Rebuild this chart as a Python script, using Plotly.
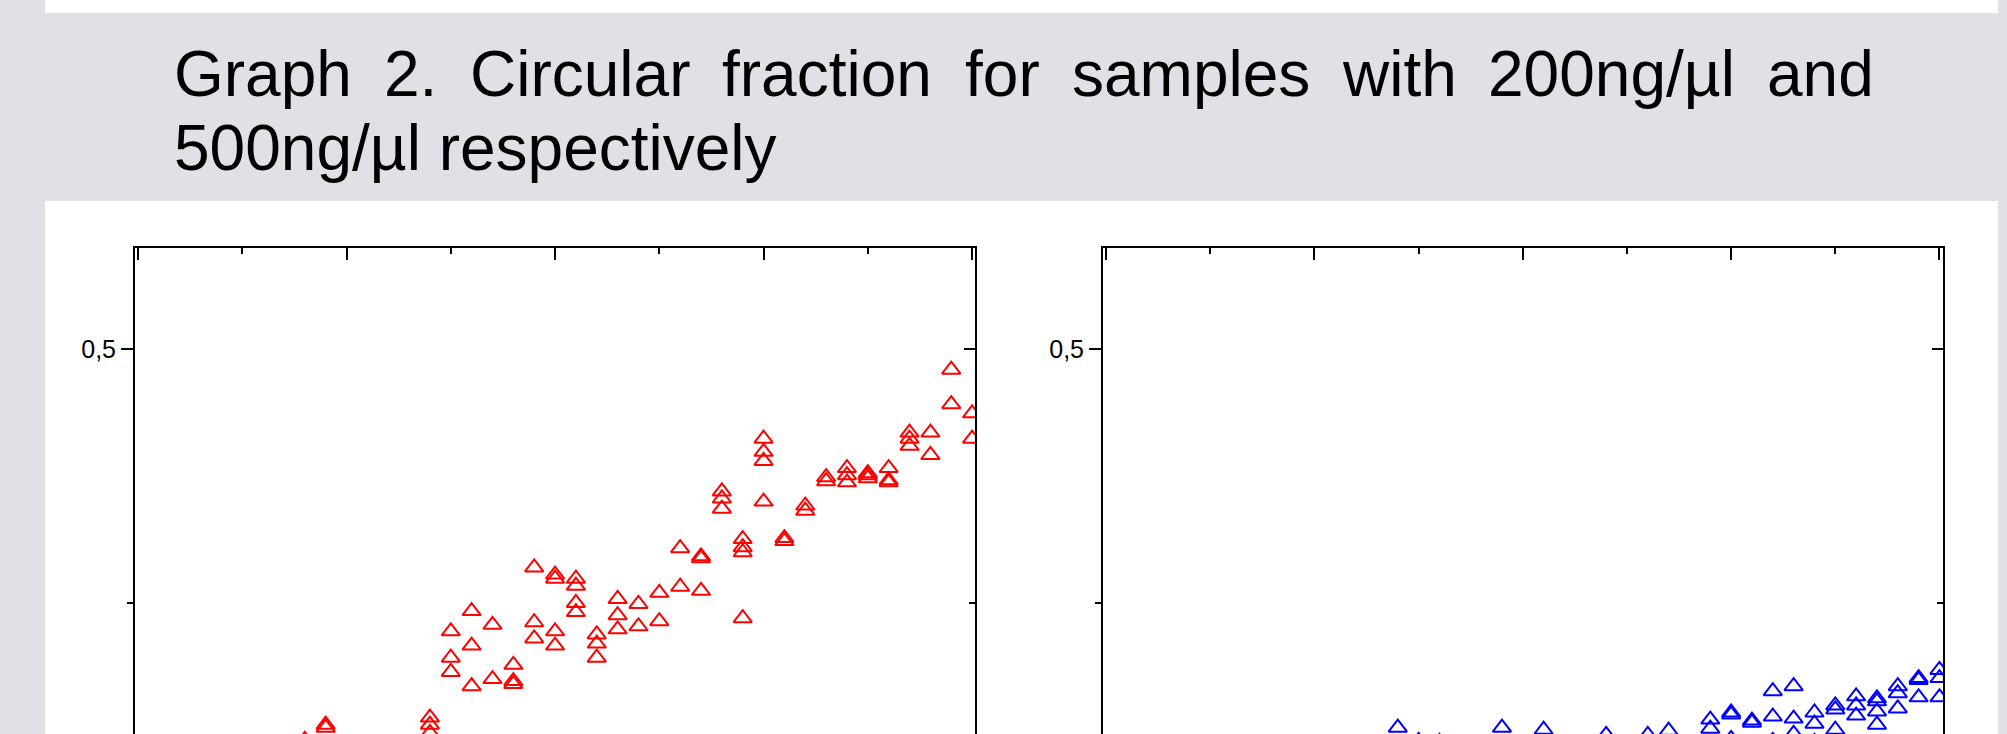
import plotly.graph_objects as go

# ---------------- data ----------------
title_line1_words = ["Graph", "2.", "Circular", "fraction", "for", "samples", "with", "200ng/µl", "and"]
title_line2 = "500ng/µl respectively"

# samples with 200 ng/µl (red)
x_200 = [8, 9, 9, 14, 14, 14, 15, 15, 15, 16, 16, 16, 17, 17, 18, 18, 18,
         19, 19, 19, 20, 20, 20, 20, 21, 21, 21, 21, 22, 22, 22, 23, 23, 23,
         24, 24, 25, 25, 26, 26, 27, 27, 27, 28, 28, 28, 29, 29, 29, 29,
         30, 30, 30, 30, 31, 31, 32, 32, 33, 33, 34, 34, 34, 35, 35, 35,
         36, 36, 36, 37, 37, 37, 38, 38, 39, 39, 40, 40]
y_200 = [0.115, 0.130, 0.127, 0.137, 0.130, 0.122, 0.222, 0.196, 0.182,
         0.242, 0.208, 0.168, 0.2285, 0.175, 0.189, 0.173, 0.170,
         0.285, 0.231, 0.215, 0.278, 0.274, 0.222, 0.208,
         0.274, 0.267, 0.250, 0.241, 0.219, 0.210, 0.196, 0.254, 0.238, 0.224,
         0.249, 0.227, 0.260, 0.232, 0.304, 0.266, 0.296, 0.294, 0.262,
         0.360, 0.353, 0.343, 0.313, 0.305, 0.300, 0.235,
         0.412, 0.399, 0.390, 0.350, 0.314, 0.311, 0.346, 0.341, 0.374, 0.370,
         0.383, 0.376, 0.369, 0.378, 0.376, 0.373, 0.383, 0.371, 0.369,
         0.418, 0.412, 0.405, 0.418, 0.396, 0.480, 0.446, 0.437, 0.412]

# samples with 500 ng/µl (blue)
x_500 = [14, 15, 16, 19, 21, 24, 26, 27, 29, 29, 30, 30, 30, 31, 31,
         32, 32, 32, 33, 33, 33, 34, 34, 34, 35, 35, 35, 36, 36, 36,
         37, 37, 37, 37, 38, 38, 38, 39, 39, 39, 40, 40, 40]
y_500 = [0.127, 0.114, 0.113, 0.127, 0.125, 0.120, 0.120, 0.124, 0.135, 0.126,
         0.142, 0.140, 0.116, 0.134, 0.132, 0.163, 0.138, 0.114,
         0.168, 0.136, 0.121, 0.142, 0.131, 0.113, 0.149, 0.145, 0.125,
         0.158, 0.149, 0.139, 0.156, 0.153, 0.143, 0.130,
         0.168, 0.161, 0.146, 0.176, 0.174, 0.157, 0.184, 0.176, 0.157]

y_ticks = [0.5]
y_tick_labels = ["0,5"]

# ---------------- layout constants ----------------
W, H = 2007, 734
FONT = "Liberation Sans, Arial, sans-serif"
BG = "#e0e1e6"

y_range = [0.1208, 0.6]
x_range_left = [-0.144, 40.14]
x_range_right = [-0.15, 40.17]
dom_y = [0, (H - 248) / H]
dom_x1 = [135 / W, 975 / W]
dom_x2 = [1103 / W, 1943 / W]

LW = 2

def xaxis_cfg(domain, anchor, rng):
    return dict(domain=domain, anchor=anchor, range=rng, side="top",
                showline=True, linecolor="black", linewidth=LW, mirror=False,
                ticks="inside", ticklen=12, tickwidth=LW, tickcolor="black",
                tick0=0, dtick=10, showticklabels=False,
                minor=dict(ticks="inside", ticklen=6, tickwidth=LW, tickcolor="black",
                           dtick=5, tick0=0, showgrid=False),
                showgrid=False, zeroline=False)

def yaxis_cfg(anchor, domain=None, overlaying=None, side="left"):
    d = dict(anchor=anchor, range=y_range, side=side,
             showline=True, linecolor="black", linewidth=LW, mirror=False,
             ticks="outside" if side == "left" else "inside",
             ticklen=12 if side == "left" else 11, tickwidth=LW, tickcolor="black",
             tickmode="array", tickvals=y_ticks, ticktext=y_tick_labels,
             showticklabels=(side == "left"), ticklabelstandoff=0,
             tickfont=dict(family=FONT, size=25, color="black"),
             minor=dict(ticks="outside" if side == "left" else "inside", ticklen=6,
                        tickwidth=LW, tickcolor="black", dtick=0.25, tick0=0,
                        showgrid=False),
             showgrid=False, zeroline=False)
    if domain is not None:
        d["domain"] = domain
    if overlaying is not None:
        d["overlaying"] = overlaying
    return d

fig = go.Figure()

marker_common = dict(symbol="triangle-up-open", size=16)
fig.add_trace(go.Scatter(x=x_200, y=y_200, mode="markers", xaxis="x", yaxis="y",
                         marker=dict(color="#ff0000", line=dict(width=2, color="#ff0000"), **marker_common),
                         name="200 ng/µl", showlegend=False))
fig.add_trace(go.Scatter(x=x_500, y=y_500, mode="markers", xaxis="x2", yaxis="y3",
                         marker=dict(color="#0000ff", line=dict(width=2, color="#0000ff"), **marker_common),
                         name="500 ng/µl", showlegend=False))
# dummy traces so the mirrored right-hand axes are drawn
fig.add_trace(go.Scatter(x=[None], y=[None], xaxis="x", yaxis="y2", showlegend=False, hoverinfo="skip"))
fig.add_trace(go.Scatter(x=[None], y=[None], xaxis="x2", yaxis="y4", showlegend=False, hoverinfo="skip"))

# ---------------- title (justified first line) ----------------
aw = {"G": 778, "r": 333, "a": 556, "p": 556, "h": 556, "2": 556, "0": 556, "5": 556,
      ".": 278, "C": 722, "i": 222, "c": 500, "u": 556, "l": 222, "f": 278, "t": 278,
      "o": 556, "n": 556, "s": 500, "m": 833, "e": 556, "w": 722, "g": 556, "/": 278,
      "µ": 576, "d": 556, " ": 278}
TS = 64
left_px, right_px = 173, 1873
widths = [sum(aw[c] for c in w) * TS / 1000 for w in title_line1_words]
gap = (right_px - left_px - sum(widths)) / (len(widths) - 1)
annotations = []
xpos = left_px
for w, wd in zip(title_line1_words, widths):
    annotations.append(dict(text=w, x=(xpos - 1) / W, y=1 - 74 / H, xref="paper", yref="paper",
                            xanchor="left", yanchor="middle", showarrow=False,
                            font=dict(family=FONT, size=TS, color="black")))
    xpos += wd + gap
annotations.append(dict(text=title_line2, x=(left_px - 1) / W, y=1 - 148 / H, xref="paper", yref="paper",
                        xanchor="left", yanchor="middle", showarrow=False,
                        font=dict(family=FONT, size=TS, color="black")))

shapes = [
    dict(type="rect", xref="paper", yref="paper", x0=45 / W, x1=1998 / W, y0=1 - 13 / H, y1=1,
         fillcolor="white", line=dict(width=0), layer="below"),
    dict(type="rect", xref="paper", yref="paper", x0=45 / W, x1=1998 / W, y0=0, y1=1 - 201 / H,
         fillcolor="white", line=dict(width=0), layer="below"),
]

fig.update_layout(
    width=W, height=H, margin=dict(l=0, r=0, t=0, b=0),
    paper_bgcolor=BG, plot_bgcolor="rgba(0,0,0,0)",
    separators=", ",
    font=dict(family=FONT, color="black"),
    xaxis=xaxis_cfg(dom_x1, "y", x_range_left),
    yaxis=yaxis_cfg("x", domain=dom_y),
    yaxis2=yaxis_cfg("x", overlaying="y", side="right"),
    xaxis2=xaxis_cfg(dom_x2, "y3", x_range_right),
    yaxis3=yaxis_cfg("x2", domain=dom_y),
    yaxis4=yaxis_cfg("x2", overlaying="y3", side="right"),
    annotations=annotations, shapes=shapes, showlegend=False,
)

fig.write_html("out.html")
